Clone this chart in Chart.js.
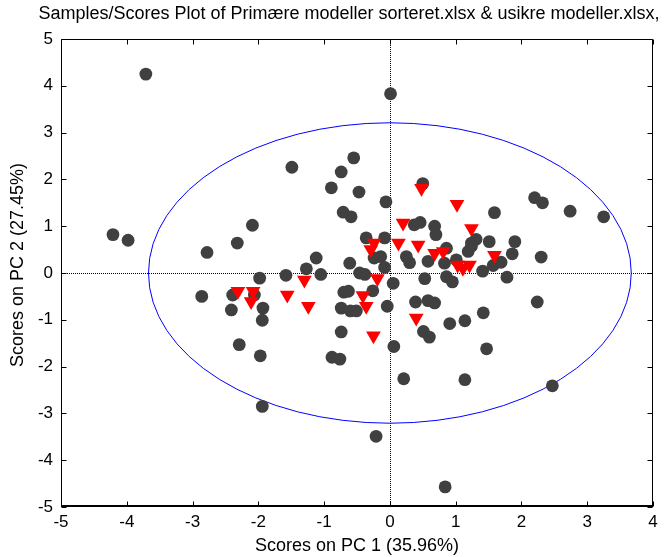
<!DOCTYPE html>
<html>
<head>
<meta charset="utf-8">
<script src="https://cdn.jsdelivr.net/npm/chart.js@4.4.0/dist/chart.umd.min.js"></script>
<style>
    body { margin: 0; background: #fff; }
    #wrap { width: 667px; height: 557px; }
</style>
</head>
<body>
<div id="wrap"><canvas id="chart1" width="667" height="557"></canvas></div>
<script>
// scores: primære modeller (grey dots)
let primX = [-3.71, -4.21, -3.98, -2.78, -2.32, -2.09, -1.98, 0.01, -1.49, -0.55,
    -0.74, -0.89, -0.47, 0.50, -0.06, -0.71, -0.59, 0.37, 0.46, 0.68,
    0.70, -0.36, -0.08, 1.24, 1.31, 1.51, 1.90, -1.12, -0.61, -0.24,
    -0.14, 0.25, 0.30, 0.58, 0.86, 1.19, 1.24, 0.83, 1.01, -1.27,
    -1.58, -1.05, -0.46, -0.38, -0.08, 0.53, 0.05, 0.86, 0.95, 1.41,
    1.57, 1.69, 1.86, 2.30, 1.78, 2.20, 2.32, 1.59, 2.74, 3.25,
    -0.70, -0.63, -0.26, -0.74, -0.60, -0.51, -0.04, 0.39, 0.58, 0.68,
    0.91, 1.14, -0.74, 0.51, 0.60, 0.06, -0.88, -0.76, 0.21, 1.14,
    -0.21, 0.84, -2.86, -2.39, -2.06, -2.41, -1.93, -1.94, -2.29, -1.97,
    -1.94, 2.24, 1.42, 1.47, 2.47];
let primY = [4.25, 0.82, 0.70, 0.44, 0.64, 1.02, -0.11, 3.83, 2.26, 2.46,
    2.16, 1.82, 1.73, 1.91, 1.52, 1.30, 1.20, 1.03, 1.08, 1.00,
    0.82, 0.75, 0.75, 0.64, 0.72, 0.67, 0.67, 0.32, 0.21, 0.32,
    0.35, 0.35, 0.22, 0.25, 0.53, 0.46, 0.57, 0.21, 0.28, 0.09,
    -0.05, -0.03, 0.00, -0.03, 0.12, -0.12, -0.22, -0.08, -0.19, 0.04,
    0.16, 0.23, 0.41, 0.34, -0.09, 1.61, 1.50, 1.29, 1.32, 1.20,
    -0.41, -0.39, -0.38, -0.75, -0.81, -0.81, -0.71, -0.62, -0.59, -0.64,
    -1.08, -1.02, -1.26, -1.25, -1.37, -1.57, -1.80, -1.84, -2.26, -2.28,
    -3.49, -4.57, -0.50, -0.47, -0.47, -0.79, -0.75, -1.01, -1.53, -1.77,
    -2.85, -0.62, -0.85, -1.62, -2.41];

// usikre modeller (red triangles)
let usikX = [0.48, 1.02, 0.20, 1.24, -0.24, -0.29, 0.13, 0.43, 0.68, 0.81,
    1.59, 1.03, 1.21, 1.11, -1.30, -0.19, -1.56, -1.24, -0.41, -0.36,
    0.40, -0.25, -2.31, -2.08, -2.11];
let usikY = [1.81, 1.47, 1.07, 0.95, 0.64, 0.50, 0.64, 0.60, 0.42, 0.46,
    0.38, 0.17, 0.17, 0.10, -0.15, -0.12, -0.47, -0.71, -0.48, -0.71,
    -0.96, -1.34, -0.39, -0.39, -0.61];

let xRange = [-5, 4];
let yRange = [-5, 5];
// 95% confidence ellipse half axes
let ellipseRx = 3.67;
let ellipseRy = 3.21;

let titleText = "Samples/Scores Plot of Primære modeller sorteret.xlsx & usikre modeller.xlsx,";
let xTitle = "Scores on PC 1 (35.96%)";
let yTitle = "Scores on PC 2 (27.45%)";

const FONT = '"Liberation Sans", Arial, sans-serif';

function pts(xs, ys) {
    return xs.map(function(v, i) { return {x: v, y: ys[i]}; });
}

// zero lines, ellipse, box with inward ticks, titles (matlab look)
var matlabBox = {
    id: 'matlabBox',
    beforeDatasetsDraw: function(chart) {
        var ctx = chart.ctx, a = chart.chartArea;
        var sx = chart.scales.x, sy = chart.scales.y;
        ctx.save();
        ctx.strokeStyle = '#000';
        ctx.lineWidth = 1;
        ctx.setLineDash([1, 1]);
        var x0 = Math.round(sx.getPixelForValue(0)) + 0.5;
        var y0 = Math.round(sy.getPixelForValue(0)) + 0.5;
        ctx.beginPath();
        ctx.moveTo(x0, a.top); ctx.lineTo(x0, a.bottom);
        ctx.moveTo(a.left, y0); ctx.lineTo(a.right, y0);
        ctx.stroke();
        ctx.setLineDash([]);
        ctx.strokeStyle = '#0000ff';
        ctx.beginPath();
        var cx = sx.getPixelForValue(0), cy = sy.getPixelForValue(0);
        ctx.ellipse(cx, cy, sx.getPixelForValue(ellipseRx) - cx, cy - sy.getPixelForValue(ellipseRy), 0, 0, 2 * Math.PI);
        ctx.stroke();
        ctx.restore();
    },
    afterDraw: function(chart) {
        var ctx = chart.ctx, a = chart.chartArea;
        var sx = chart.scales.x, sy = chart.scales.y;
        ctx.save();
        ctx.strokeStyle = '#000';
        ctx.lineWidth = 1;
        var L = Math.round(a.left) + 0.5, R = Math.round(a.right) - 0.5;
        var T = Math.round(a.top) + 0.5, B = Math.round(a.bottom) - 0.5;
        ctx.beginPath();
        ctx.rect(L, T, R - L, B - T);
        sx.ticks.forEach(function(t) {
            var p = Math.round(sx.getPixelForValue(t.value)) + 0.5;
            ctx.moveTo(p, B); ctx.lineTo(p, B - 5);
            ctx.moveTo(p, T); ctx.lineTo(p, T + 5);
        });
        sy.ticks.forEach(function(t) {
            var p = Math.round(sy.getPixelForValue(t.value)) + 0.5;
            ctx.moveTo(L, p); ctx.lineTo(L + 5, p);
            ctx.moveTo(R, p); ctx.lineTo(R - 5, p);
        });
        ctx.stroke();
        ctx.lineWidth = 2;
        ctx.beginPath();
        ctx.moveTo(a.left, a.bottom - 1); ctx.lineTo(a.right, a.bottom - 1);
        ctx.stroke();

        ctx.fillStyle = '#000';
        ctx.font = '18px ' + FONT;
        ctx.textAlign = 'center';
        ctx.textBaseline = 'middle';
        ctx.fillText(titleText, 349, 14);
        ctx.fillText(xTitle, (a.left + a.right) / 2, 546);
        ctx.translate(18, 265);
        ctx.rotate(-Math.PI / 2);
        ctx.fillText(yTitle, 0, 0);
        ctx.restore();
    }
};

var ctx = document.getElementById('chart1').getContext('2d');
var chart = new Chart(ctx, {
    type: 'scatter',
    data: {
        datasets: [{
            label: 'usikre modeller',
            data: pts(usikX, usikY),
            pointStyle: 'triangle',
            pointRotation: 180,
            pointRadius: 8.5,
            pointBackgroundColor: '#ff0000',
            pointBorderWidth: 0
        }, {
            label: 'Primære modeller',
            data: pts(primX, primY),
            pointStyle: 'circle',
            pointRadius: 6.4,
            pointBackgroundColor: '#404040',
            pointBorderWidth: 0
        }]
    },
    options: {
        responsive: false,
        animation: false,
        events: [],
        layout: { padding: { top: 39, right: 14, left: 0, bottom: 0 } },
        plugins: { legend: { display: false }, tooltip: { enabled: false } },
        scales: {
            x: {
                min: xRange[0], max: xRange[1],
                ticks: { stepSize: 1, color: '#000', padding: 5, font: { family: FONT, size: 17 } },
                grid: { display: false, drawTicks: false },
                border: { display: false },
                afterFit: function(s) { s.height = 50; }
            },
            y: {
                min: yRange[0], max: yRange[1],
                ticks: { stepSize: 1, color: '#000', padding: 8, font: { family: FONT, size: 17 } },
                grid: { display: false, drawTicks: false },
                border: { display: false },
                afterFit: function(s) { s.width = 61; }
            }
        }
    },
    plugins: [matlabBox]
});
</script>
</body>
</html>
